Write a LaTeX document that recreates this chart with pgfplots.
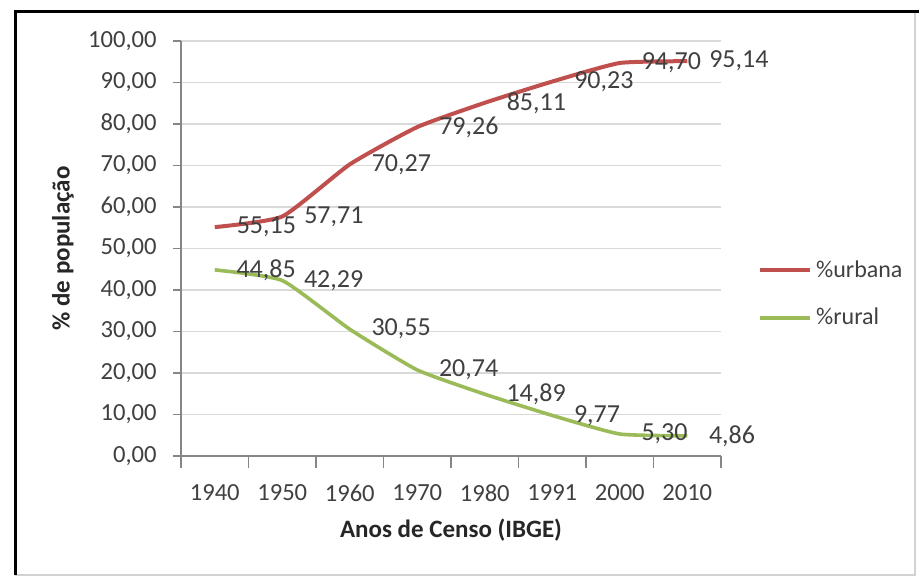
\documentclass[border=0pt]{standalone}
\usepackage{pgfplots}
\pgfplotsset{compat=1.18}
\usepackage{fontspec}
\setmainfont{Carlito}

\definecolor{urbana}{HTML}{C0504D}
\definecolor{rural}{HTML}{9BBB59}
\definecolor{txt}{HTML}{404040}
\definecolor{gridc}{HTML}{D9D9D9}
\definecolor{axc}{HTML}{868686}

\begin{document}
\begin{tikzpicture}
\path[use as bounding box] (0,0) rectangle (459.5pt,-288pt);
% frame round the chart
\draw[gray!35, line width=0.8pt] (457.5pt,-5.8pt) -- (457.5pt,-287.6pt) -- (7.6pt,-287.6pt);
\draw[black, line width=1.5pt] (7.6pt,-287.5pt) -- (7.6pt,-5.8pt) -- (459.5pt,-5.8pt);

\begin{axis}[
  at={(90.5pt,-228pt)}, anchor=south west,
  scale only axis, width=270pt, height=207.5pt,
  xmin=-0.5, xmax=7.5, ymin=0, ymax=100,
  clip=false,
  axis x line*=bottom, axis y line*=left,
  axis line style={axc, line width=0.8pt},
  tick align=outside,
  major tick length=4pt, minor tick length=6pt,
  tick style={axc, line width=0.8pt},
  major x tick style={draw=none},
  xtick={0,...,7},
  xticklabels={1940,1950,1960,1970,1980,1991,2000,2010},
  minor xtick={-0.5,0.5,...,7.5},
  ytick={0,10,...,100},
  ymajorgrids,
  grid style={gridc, line width=0.8pt},
  ticklabel style={font=\fontsize{12.3}{14}\selectfont, text=txt, inner sep=0pt},
  yticklabel style={xshift=-8pt},
  xticklabel style={yshift=-10pt},
  /pgf/number format/.cd, fixed, fixed zerofill, precision=2, use comma, assume math mode=true,
  /pgfplots/.cd,
  every axis y label/.style={at={(axis description cs:-0.2185,0.5)}, rotate=90, anchor=center},
  every axis x label/.style={at={(axis description cs:0.5,-0.178)}, anchor=center},
  label style={font=\fontsize{12.5}{15}\selectfont\bfseries, text=black!85},
  xlabel={Anos de Censo (IBGE)},
  ylabel={\% de população},
  nodes near coords={\pgfmathprintnumber{\pgfplotspointmeta}},
  every node near coord/.append style={anchor=west, xshift=10pt, inner sep=0pt,
    font=\fontsize{13}{15}\selectfont, text=txt},
  legend style={at={(axis description cs:1.068,0.39)}, anchor=west, draw=none, fill=none,
    font=\fontsize{12}{14}\selectfont, text=txt, row sep=10pt, inner sep=0pt},
  legend cell align=left,
  legend image code/.code={\draw[#1] (0pt,0pt) -- (25pt,0pt);},
]
\addplot[urbana, line width=2pt, mark=none, smooth, tension=0.3] coordinates {
  (0,55.15) (1,57.71) (2,70.27) (3,79.26) (4,85.11) (5,90.23) (6,94.70) (7,95.14)
};
\addlegendentry{\%urbana}
\addplot[rural, line width=1.8pt, mark=none, smooth, tension=0.3] coordinates {
  (0,44.85) (1,42.29) (2,30.55) (3,20.74) (4,14.89) (5,9.77) (6,5.30) (7,4.86)
};
\addlegendentry{\%rural}
\end{axis}
\end{tikzpicture}
\end{document}
